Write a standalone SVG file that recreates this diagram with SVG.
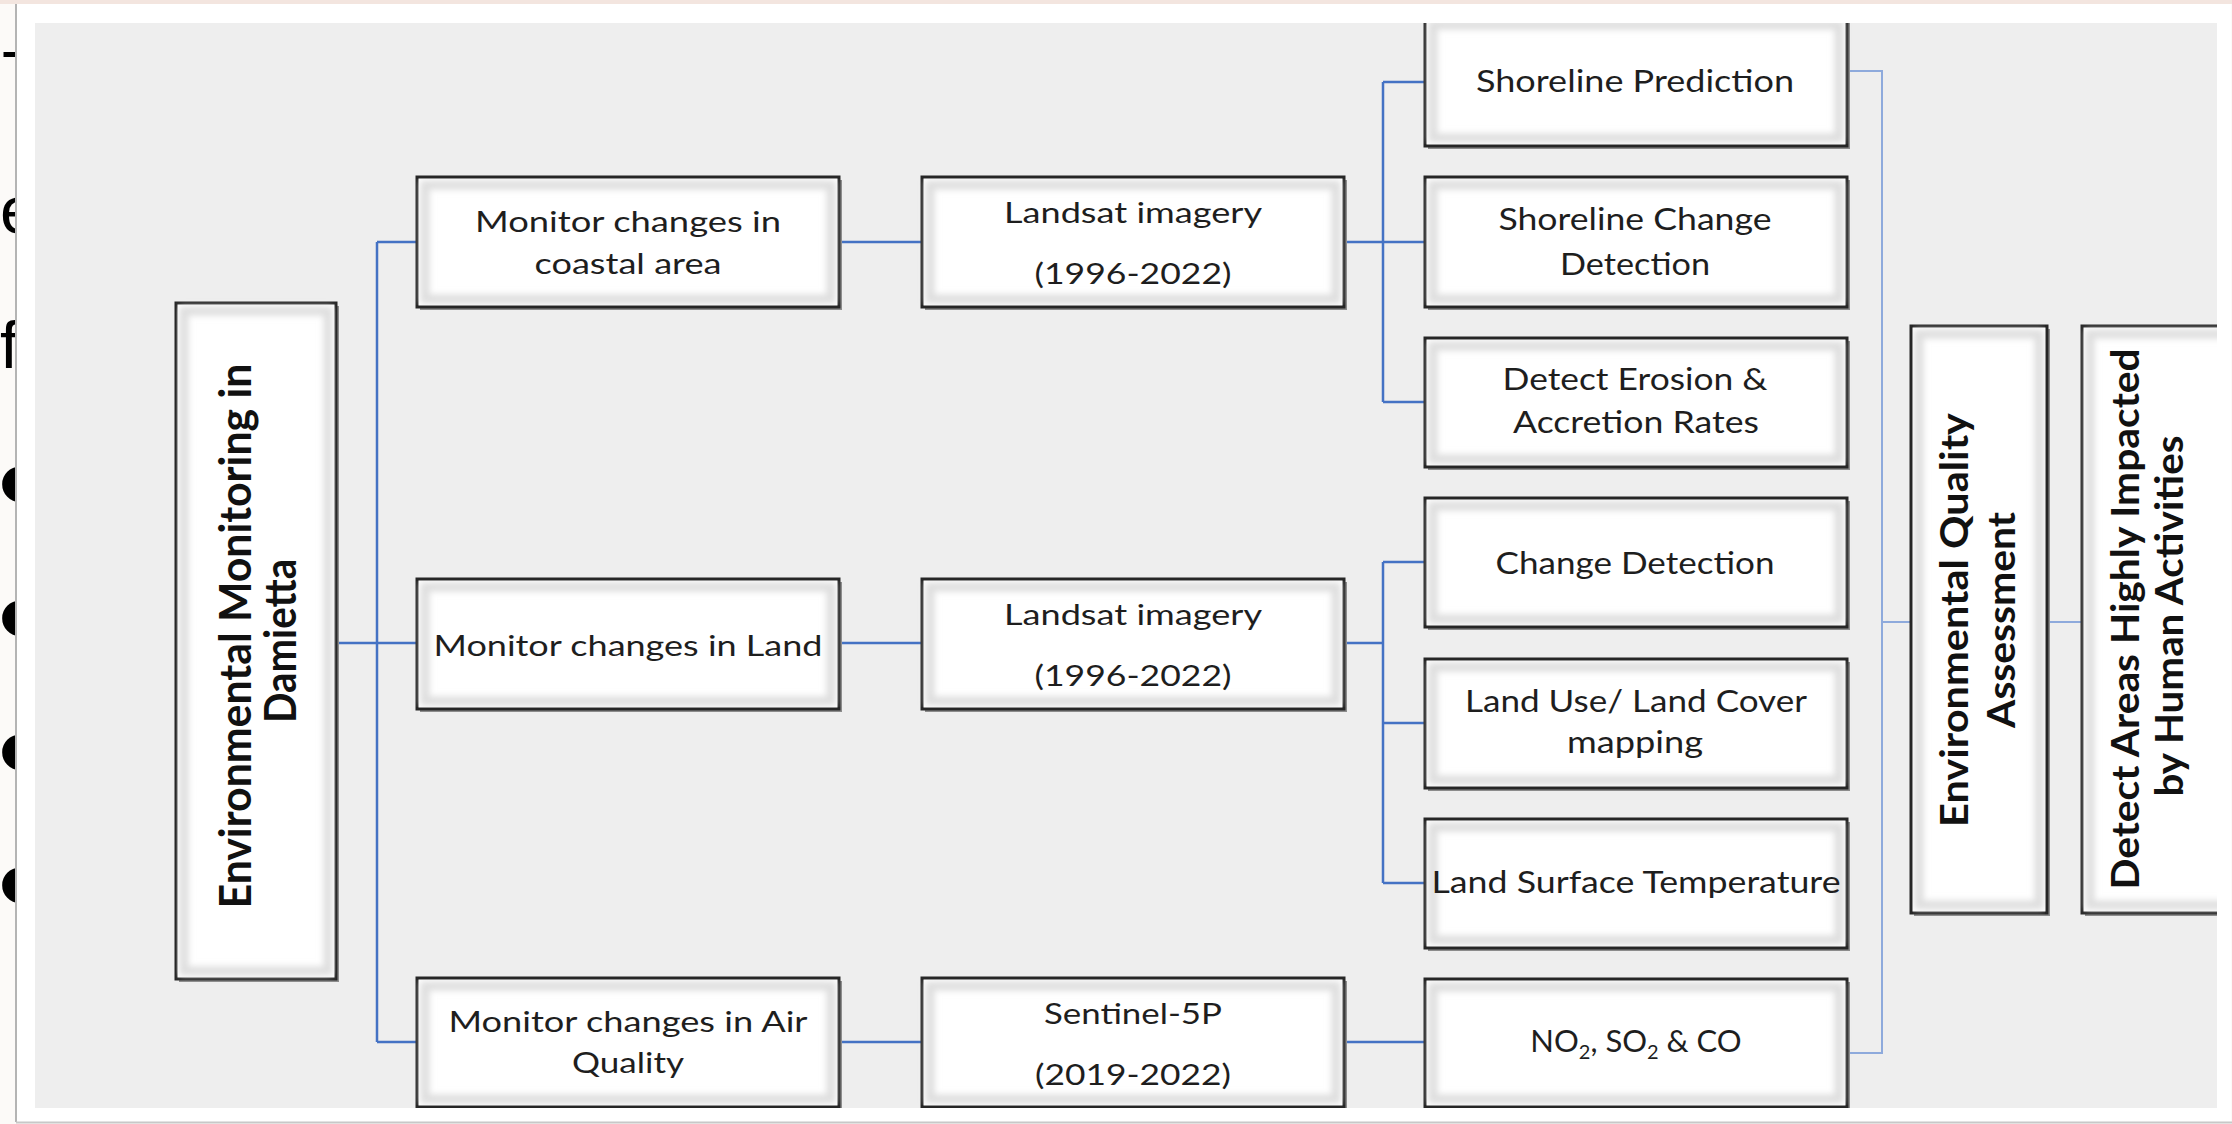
<svg xmlns="http://www.w3.org/2000/svg" width="2232" height="1124" viewBox="0 0 2232 1124">
<defs>
<style>
.box{fill:#ffffff;stroke:#262626;stroke-width:3}
.shd{fill:#8c8c8c}
.bev{fill:none;stroke:#dedede;stroke-width:9;filter:url(#soft)}
.t{font-family:Lato,"Open Sans","Liberation Sans",sans-serif;fill:#1e1e1e;text-anchor:middle}
.s2{font-size:29px}
.s4{font-size:31px}
.b{font-family:Lato,"Open Sans","Liberation Sans",sans-serif;font-weight:bold;fill:#111;text-anchor:middle}
.dk{fill:none;stroke:#4472c4;stroke-width:2.5}
.lt{fill:none;stroke:#8eaadc;stroke-width:2}
.bg{font-family:"Liberation Sans",Arial,sans-serif;fill:#000}
</style>
<filter id="soft" x="-5%" y="-5%" width="110%" height="110%"><feGaussianBlur stdDeviation="3"/></filter>
<clipPath id="panel"><rect x="35" y="23" width="2182" height="1085"/></clipPath>
</defs>

<!-- slide background -->
<rect x="0" y="0" width="2232" height="1124" fill="#fcfaf8"/>
<rect x="0" y="0" width="2232" height="4" fill="#f3e5df"/>
<g id="slide-text">
<text class="bg" x="2" y="98" font-size="67">T</text>
<text class="bg" x="0" y="233" font-size="67">e</text>
<text class="bg" x="0" y="368" font-size="67">f</text>
<text class="bg" x="-3" y="527" font-size="130">•</text>
<text class="bg" x="-3" y="661" font-size="130">•</text>
<text class="bg" x="-3" y="795" font-size="130">•</text>
<text class="bg" x="-3" y="928" font-size="130">•</text>
</g>

<!-- picture frame -->
<rect x="16" y="4" width="2215" height="1118" fill="#ffffff"/>
<line x1="16" y1="4" x2="16" y2="1122" stroke="#b4b4b4" stroke-width="2"/>
<line x1="16" y1="1122.5" x2="2232" y2="1122.5" stroke="#c8c8c8" stroke-width="2"/>
<rect x="35" y="23" width="2182" height="1085" fill="#eeeeee"/>

<g clip-path="url(#panel)">
<g id="connectors">
<path class="dk" d="M336,643 H377 M377,242 V1042 M377,242 H417 M377,643 H417 M377,1042 H417"/>
<path class="dk" d="M839,242 H922 M839,643 H922 M839,1042 H922"/>
<path class="dk" d="M1344,242 H1383 M1383,82 V402 M1383,82 H1425 M1383,242 H1425 M1383,402 H1425"/>
<path class="dk" d="M1344,643 H1383 M1383,562 V883 M1383,562 H1425 M1383,723 H1425 M1383,883 H1425"/>
<path class="dk" d="M1344,1042 H1425"/>
<path class="lt" d="M1850,71 H1882 V1053 H1850 M1882,622 H1911 M2047,622 H2082"/>
</g>

<g id="n-env">
<rect class="shd" x="179" y="306" width="160" height="676"/>
<rect class="box" x="176" y="303" width="160" height="676"/>
<rect class="bev" x="184" y="311" width="144" height="660"/>
<text class="b" font-size="44" textLength="545" lengthAdjust="spacingAndGlyphs" transform="translate(251,636) rotate(-90)">Environmental Monitoring in</text>
<text class="b" font-size="44" textLength="164" lengthAdjust="spacingAndGlyphs" transform="translate(296,641) rotate(-90)">Damietta</text>
</g>

<g id="n-coastal">
<rect class="shd" x="420" y="180" width="422" height="130"/>
<rect class="box" x="417" y="177" width="422" height="130"/>
<rect class="bev" x="425" y="185" width="406" height="114"/>
<text class="t s2" x="628" y="232" textLength="306" lengthAdjust="spacingAndGlyphs">Monitor changes in</text>
<text class="t s2" x="628" y="274" textLength="187" lengthAdjust="spacingAndGlyphs">coastal area</text>
</g>
<g id="n-land">
<rect class="shd" x="420" y="582" width="422" height="130"/>
<rect class="box" x="417" y="579" width="422" height="130"/>
<rect class="bev" x="425" y="587" width="406" height="114"/>
<text class="t s2" x="628" y="656" textLength="389" lengthAdjust="spacingAndGlyphs">Monitor changes in Land</text>
</g>
<g id="n-air">
<rect class="shd" x="420" y="981" width="422" height="129"/>
<rect class="box" x="417" y="978" width="422" height="129"/>
<rect class="bev" x="425" y="986" width="406" height="113"/>
<text class="t s2" x="628" y="1032" textLength="359" lengthAdjust="spacingAndGlyphs">Monitor changes in Air</text>
<text class="t s2" x="628" y="1073" textLength="112" lengthAdjust="spacingAndGlyphs">Quality</text>
</g>

<g id="n-landsat1">
<rect class="shd" x="925" y="180" width="422" height="130"/>
<rect class="box" x="922" y="177" width="422" height="130"/>
<rect class="bev" x="930" y="185" width="406" height="114"/>
<text class="t s2" x="1133" y="223" textLength="258" lengthAdjust="spacingAndGlyphs">Landsat imagery</text>
<text class="t s2" x="1133" y="284" textLength="197" lengthAdjust="spacingAndGlyphs">(1996-2022)</text>
</g>
<g id="n-landsat2">
<rect class="shd" x="925" y="582" width="422" height="130"/>
<rect class="box" x="922" y="579" width="422" height="130"/>
<rect class="bev" x="930" y="587" width="406" height="114"/>
<text class="t s2" x="1133" y="625" textLength="258" lengthAdjust="spacingAndGlyphs">Landsat imagery</text>
<text class="t s2" x="1133" y="686" textLength="197" lengthAdjust="spacingAndGlyphs">(1996-2022)</text>
</g>
<g id="n-sentinel">
<rect class="shd" x="925" y="981" width="422" height="129"/>
<rect class="box" x="922" y="978" width="422" height="129"/>
<rect class="bev" x="930" y="986" width="406" height="113"/>
<text class="t s2" x="1133" y="1024" textLength="178" lengthAdjust="spacingAndGlyphs">Sentinel-5P</text>
<text class="t s2" x="1133" y="1085" textLength="196" lengthAdjust="spacingAndGlyphs">(2019-2022)</text>
</g>

<g id="n-shore-pred">
<rect class="shd" x="1428" y="20" width="422" height="129"/>
<rect class="box" x="1425" y="17" width="422" height="129"/>
<rect class="bev" x="1433" y="25" width="406" height="113"/>
<text class="t s4" x="1635" y="92" textLength="318" lengthAdjust="spacingAndGlyphs">Shoreline Prediction</text>
</g>
<g id="n-shore-change">
<rect class="shd" x="1428" y="180" width="422" height="130"/>
<rect class="box" x="1425" y="177" width="422" height="130"/>
<rect class="bev" x="1433" y="185" width="406" height="114"/>
<text class="t s4" x="1635" y="230" textLength="273" lengthAdjust="spacingAndGlyphs">Shoreline Change</text>
<text class="t s4" x="1635" y="275" textLength="150" lengthAdjust="spacingAndGlyphs">Detection</text>
</g>
<g id="n-erosion">
<rect class="shd" x="1428" y="341" width="422" height="129"/>
<rect class="box" x="1425" y="338" width="422" height="129"/>
<rect class="bev" x="1433" y="346" width="406" height="113"/>
<text class="t s4" x="1635" y="390" textLength="265" lengthAdjust="spacingAndGlyphs">Detect Erosion &amp;</text>
<text class="t s4" x="1636" y="433" textLength="246" lengthAdjust="spacingAndGlyphs">Accretion Rates</text>
</g>
<g id="n-change">
<rect class="shd" x="1428" y="501" width="422" height="129"/>
<rect class="box" x="1425" y="498" width="422" height="129"/>
<rect class="bev" x="1433" y="506" width="406" height="113"/>
<text class="t s4" x="1635" y="574" textLength="279" lengthAdjust="spacingAndGlyphs">Change Detection</text>
</g>
<g id="n-lulc">
<rect class="shd" x="1428" y="662" width="422" height="129"/>
<rect class="box" x="1425" y="659" width="422" height="129"/>
<rect class="bev" x="1433" y="667" width="406" height="113"/>
<text class="t s4" x="1636" y="712" textLength="342" lengthAdjust="spacingAndGlyphs">Land Use/ Land Cover</text>
<text class="t s4" x="1635" y="753" textLength="136" lengthAdjust="spacingAndGlyphs">mapping</text>
</g>
<g id="n-lst">
<rect class="shd" x="1428" y="822" width="422" height="129"/>
<rect class="box" x="1425" y="819" width="422" height="129"/>
<rect class="bev" x="1433" y="827" width="406" height="113"/>
<text class="t s4" x="1636" y="893" textLength="409" lengthAdjust="spacingAndGlyphs">Land Surface Temperature</text>
</g>
<g id="n-gases">
<rect class="shd" x="1428" y="982" width="422" height="128"/>
<rect class="box" x="1425" y="979" width="422" height="128"/>
<rect class="bev" x="1433" y="987" width="406" height="112"/>
<text class="t s4" x="1636" y="1052">NO<tspan font-size="20" dy="7">2</tspan><tspan dy="-7">, SO</tspan><tspan font-size="20" dy="7">2</tspan><tspan dy="-7"> &amp; CO</tspan></text>
</g>

<g id="n-eqa">
<rect class="shd" x="1914" y="329" width="136" height="587"/>
<rect class="box" x="1911" y="326" width="136" height="587"/>
<rect class="bev" x="1919" y="334" width="120" height="571"/>
<text class="b" font-size="39" textLength="414" lengthAdjust="spacingAndGlyphs" transform="translate(1968,620) rotate(-90)">Environmental Quality</text>
<text class="b" font-size="39" textLength="216" lengthAdjust="spacingAndGlyphs" transform="translate(2015,620) rotate(-90)">Assessment</text>
</g>
<g id="n-dah">
<rect class="shd" x="2085" y="329" width="200" height="587"/>
<rect class="box" x="2082" y="326" width="200" height="587"/>
<rect class="bev" x="2090" y="334" width="184" height="571"/>
<text class="b" font-size="39" textLength="541" lengthAdjust="spacingAndGlyphs" transform="translate(2139,619) rotate(-90)">Detect Areas Highly Impacted</text>
<text class="b" font-size="39" textLength="361" lengthAdjust="spacingAndGlyphs" transform="translate(2183,616) rotate(-90)">by Human Activities</text>
</g>
</g>
</svg>
